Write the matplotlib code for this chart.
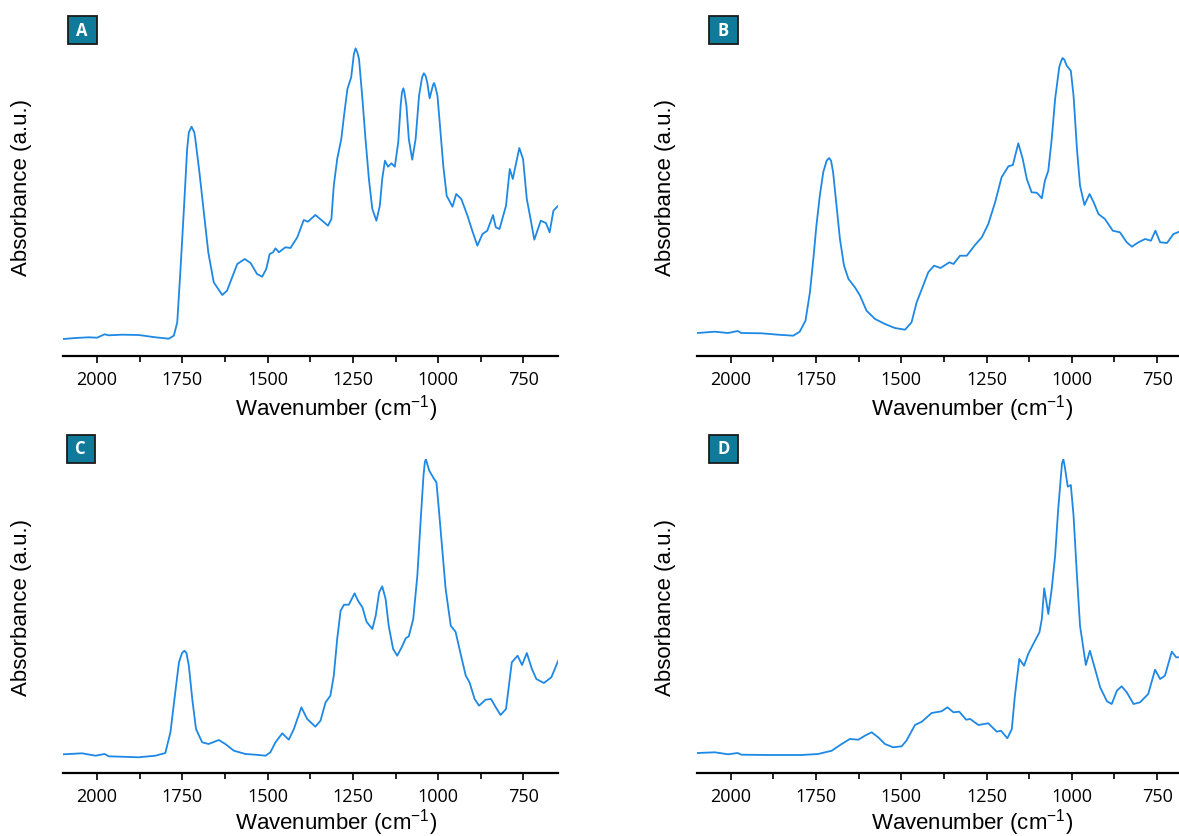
import matplotlib
matplotlib.use("Agg")
import matplotlib.pyplot as plt
from matplotlib.patches import Rectangle
from matplotlib.ticker import MultipleLocator

# ---------------- data (wavenumber in cm^-1, absorbance in arbitrary units) ----------------
wn_a = [2098, 2064, 2025, 2000, 1978, 1966, 1927, 1878, 1829, 1790, 1775, 1765, 1756, 1746,
        1736, 1731, 1723, 1715, 1712, 1700, 1687, 1674, 1658, 1633, 1619, 1604, 1589, 1567, 1550, 1531,
        1516, 1504, 1494, 1484, 1477, 1467, 1448, 1433, 1413, 1394, 1382, 1360, 1340, 1323,
        1313, 1306, 1296, 1284, 1276, 1266, 1255, 1247, 1242, 1237, 1232, 1222, 1213, 1203, 1193, 1181,
        1171, 1164, 1156, 1147, 1137, 1127, 1117, 1110, 1106, 1102, 1099, 1093, 1086, 1076, 1066, 1056,
        1047, 1042, 1037, 1032, 1025, 1015, 1012, 1009, 1002, 993, 985, 975, 958, 947, 932, 914, 900, 885, 870, 856,
        839, 831, 820, 801, 790, 781, 773, 762, 751, 740, 729, 718, 699, 684, 673, 662, 648]
abs_a = [16.7, 17.7, 18.4, 18.0, 21.4, 20.4, 21.0, 20.7, 18.4, 17.0, 20.0, 33.4, 83.4, 143.4,
         206.7, 223.4, 229.0, 223.4, 216.7, 183.4, 143.4, 103.4, 73.4, 60.7, 65.0, 78.4, 91.7, 96.7, 92.7, 81.7,
         79.0, 86.7, 101.7, 103.4, 107.4, 103.4, 108.4, 107.7, 118.4, 135.7, 134.0, 140.7, 135.0, 130.0,
         136.7, 170.0, 196.7, 216.7, 240.0, 266.7, 278.4, 301.7, 307.4, 303.4, 296.7, 256.7, 216.7, 176.7, 146.7, 135.0,
         150.0, 176.7, 195.0, 189.0, 192.4, 189.0, 213.4, 250.0, 263.4, 267.4, 263.4, 250.0, 216.7, 196.0, 216.7, 260.0,
         278.4, 282.4, 280.0, 273.4, 257.4, 270.7, 272.7, 270.0, 260.0, 223.4, 190.0, 160.0, 149.0, 161.7, 156.7, 140.0, 125.0, 110.0, 121.7, 125.0,
         140.7, 128.4, 126.7, 150.0, 186.7, 176.7, 190.0, 207.7, 196.7, 156.7, 136.7, 116.0, 135.0, 132.7, 123.4, 145.0, 150.0]

wn_b = [2098, 2047, 2008, 1980, 1969, 1910, 1861, 1817, 1798, 1781, 1768, 1758, 1749, 1739,
        1729, 1719, 1712, 1706, 1700, 1690, 1680, 1668, 1655, 1636, 1621, 1602, 1577, 1548, 1519, 1489,
        1470, 1455, 1436, 1421, 1404, 1385, 1359, 1347, 1328, 1308, 1284, 1264, 1245, 1225,
        1206, 1186, 1173, 1157, 1144, 1132, 1118, 1103, 1088, 1079, 1069, 1059, 1049, 1037,
        1032, 1027, 1022, 1015, 1003, 995, 985, 976, 963, 948, 936, 922, 903, 880, 859, 839, 824, 805,
        785, 768, 755, 741, 721, 702, 685]
abs_b = [22.7, 24.0, 22.7, 24.7, 22.7, 22.4, 21.0, 20.0, 24.0, 35.0, 63.4, 96.7, 130.0, 160.0,
         183.4, 195.0, 197.7, 195.0, 183.4, 150.0, 116.7, 90.0, 76.7, 68.4, 60.0, 45.0, 36.7, 31.7, 27.7, 26.0,
         33.4, 53.4, 70.0, 83.4, 90.0, 87.7, 93.4, 91.7, 100.0, 100.0, 110.7, 118.4, 131.7, 153.4,
         178.4, 189.4, 190.7, 212.4, 196.7, 176.7, 163.4, 163.0, 157.4, 175.0, 185.0, 216.7, 256.7, 288.4,
         294.0, 297.7, 296.0, 290.0, 285.0, 260.0, 206.7, 170.0, 150.7, 161.7, 153.4, 141.7, 136.7, 125.0, 123.4, 113.4, 109.0, 113.4,
         116.7, 115.0, 125.0, 113.4, 112.7, 121.7, 124.0]

wn_c = [2098, 2044, 2005, 1978, 1966, 1878, 1829, 1800, 1785, 1772, 1760, 1751, 1744, 1738, 1731, 1721,
        1710, 1692, 1673, 1643, 1624, 1599, 1565, 1536, 1506, 1492, 1477, 1457, 1438, 1423,
        1401, 1384, 1360, 1345, 1330, 1316, 1306, 1296, 1286, 1276, 1262, 1245, 1235, 1222,
        1210, 1193, 1183, 1173, 1164, 1154, 1145, 1132, 1120, 1107, 1095, 1086, 1073, 1061,
        1051, 1043, 1039, 1036, 1032, 1026, 1013, 1005, 998, 988, 978, 963, 949, 934, 919, 908, 893, 880,
        861, 845, 831, 817, 801, 784, 767, 754, 740, 725, 712, 690, 668, 648]
abs_c = [18.7, 19.7, 17.3, 19.0, 16.7, 15.7, 17.3, 20.0, 40.7, 77.3, 110.7, 120.0, 122.3, 120.0, 107.3, 74.0,
         44.0, 30.7, 29.0, 33.0, 29.0, 22.3, 19.0, 18.3, 17.3, 20.7, 30.7, 39.7, 33.3, 44.0,
         65.7, 54.0, 46.3, 52.3, 70.7, 77.3, 97.3, 134.0, 162.3, 168.3, 168.3, 179.7, 172.3, 165.7,
         151.3, 144.0, 157.3, 180.7, 186.7, 174.0, 147.3, 124.0, 117.3, 125.7, 134.7, 136.7, 154.0, 197.3,
         254.0, 297.3, 310.7, 314.0, 309.0, 302.3, 294.7, 290.7, 264.0, 224.0, 184.0, 147.3, 141.3, 119.0, 97.3, 90.7, 74.0, 67.3,
         73.3, 74.0, 65.7, 58.0, 64.0, 110.7, 117.3, 108.0, 120.0, 104.0, 94.0, 90.0, 95.7, 112.3]

wn_d = [2098, 2047, 2008, 1980, 1969, 1891, 1793, 1744, 1704, 1675, 1651, 1626, 1607, 1587,
        1568, 1548, 1524, 1499, 1485, 1460, 1440, 1411, 1382, 1365, 1347, 1330, 1310, 1298,
        1274, 1245, 1220, 1208, 1189, 1176, 1167, 1154, 1140, 1128, 1113, 1095, 1088, 1081,
        1069, 1059, 1049, 1040, 1029, 1025, 1021, 1012, 1003, 995, 985, 976, 959, 947, 932, 917, 897, 883,
        868, 854, 839, 819, 800, 776, 756, 741, 727, 707, 694, 685]
abs_d = [20.0, 20.7, 18.7, 20.0, 18.3, 18.0, 18.0, 19.0, 22.3, 29.0, 34.0, 33.3, 37.3, 40.7,
         35.7, 29.0, 25.7, 26.7, 32.3, 48.0, 51.3, 60.0, 61.7, 65.7, 60.7, 61.3, 53.3, 54.0,
         48.0, 49.7, 41.3, 42.3, 34.7, 44.0, 77.3, 114.0, 107.3, 119.0, 129.0, 140.7, 154.0, 184.7,
         159.0, 184.0, 217.3, 264.0, 309.0, 314.0, 307.0, 286.3, 288.0, 257.3, 197.3, 147.3, 108.0, 122.3, 104.0, 85.7, 71.7, 69.0,
         82.3, 86.7, 80.7, 69.0, 70.7, 79.0, 103.3, 94.0, 97.3, 121.3, 115.7, 115.7]

panel_letters = ["A", "B", "C", "D"]
x_major = [2000, 1750, 1500, 1250, 1000, 750]
x_label = "Wavenumber (cm$^{-1}$)"
y_label = "Absorbance (a.u.)"

# ---------------- styling / layout ----------------
plt.rcParams["mathtext.fontset"] = "custom"
plt.rcParams["mathtext.rm"] = "Liberation Sans"
plt.rcParams["mathtext.it"] = "Liberation Sans"

W, H = 1179, 837
fig = plt.figure(figsize=(W / 100, H / 100), dpi=100)
LINE = "#1E88E5"
BOX = "#0F7A9A"

def rect(left, right, bottom, top):
    return [left / W, (H - bottom) / H, (right - left) / W, (bottom - top) / H]

layout = [
    # axes (left, right, bottom, top), box (x, y), ylabel (x, y), xlabel (x, y)
    ((63, 557.5, 356.7, 40), (68, 17), (22, 187.5), (336, 409)),
    ((696.7, 1191.2, 356.7, 40), (709, 17), (665, 187.5), (972, 409)),
    ((63, 557.5, 774, 460), (66.5, 435.5), (22, 607.5), (336, 823)),
    ((696.7, 1191.2, 774, 460), (709, 435.5), (665, 607.5), (972, 823)),
]
series = [(wn_a, abs_a), (wn_b, abs_b), (wn_c, abs_c), (wn_d, abs_d)]

for letter, (xs, ys), (ab, box, yl, xl) in zip(panel_letters, series, layout):
    l, r, b, t = ab
    ax = fig.add_axes(rect(l, r, b, t))
    ax.plot(xs, ys, color=LINE, lw=1.3, solid_joinstyle="round")
    ax.set_xlim(2100, 650)
    ax.set_ylim(0, b - t)
    for s in ("left", "right", "top"):
        ax.spines[s].set_visible(False)
    ax.spines["bottom"].set_linewidth(1.6)
    ax.set_yticks([])
    ax.set_xticks(x_major)
    ax.xaxis.set_minor_locator(MultipleLocator(125))
    ax.tick_params(axis="x", which="major", length=5, width=1.2, direction="out", pad=5,
                   labelsize=13)
    ax.tick_params(axis="x", which="minor", length=4, width=1.2, direction="out")
    for lab in ax.get_xticklabels():
        lab.set_fontfamily("Open Sans")
    ax.patch.set_alpha(0)

    fig.text(yl[0] / W, 1 - yl[1] / H, y_label, rotation=90, ha="center", va="center",
             fontsize=16, family="Liberation Sans")
    fig.text(xl[0] / W, 1 - xl[1] / H, x_label, ha="center", va="center",
             fontsize=16, family="Liberation Sans")

    bx, by = box
    fig.patches.append(Rectangle((bx / W, 1 - (by + 28) / H), 28.5 / W, 28 / H,
                                 transform=fig.transFigure, facecolor=BOX,
                                 edgecolor="#1a1a1a", linewidth=1.3, zorder=5))
    fig.text((bx + 14.25) / W, 1 - (by + 14) / H, letter, ha="center", va="center",
             color="white", fontsize=12, fontweight="bold", family="Open Sans", zorder=6)

fig.savefig("out.png", dpi=100)
